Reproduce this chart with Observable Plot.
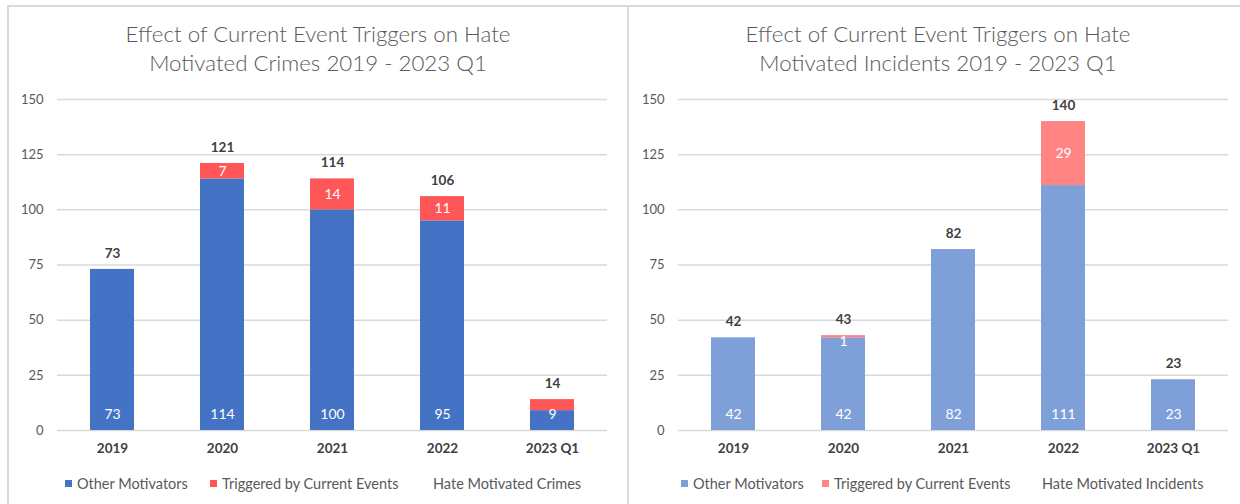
<!DOCTYPE html>
<html>
<head>
<meta charset="utf-8">
<script src="https://cdn.jsdelivr.net/npm/d3@7"></script>
<script src="https://cdn.jsdelivr.net/npm/@observablehq/plot@0.6"></script>
<style>
  html, body { margin: 0; padding: 0; background: #fff; }
  #root { position: relative; width: 1240px; height: 504px; overflow: hidden; background: #fff; font-family: Lato, "Open Sans", sans-serif; }
  .panel { position: absolute; top: 5px; height: 560px; border: 2px solid #d9d9d9; box-sizing: border-box; }
  .title { position: absolute; text-align: center; color: #595959; font-size: 22.3px; font-weight: 300; line-height: 29px; white-space: nowrap; transform: translateX(-50%); }
  .plot { position: absolute; top: 85px; }
  .leg { position: absolute; top: 475px; font-size: 14.5px; color: #595959; white-space: nowrap; line-height: 18px; }
  .sw { display: inline-block; width: 7px; height: 7px; margin-right: 5px; vertical-align: 2px; }
</style>
</head>
<body>
<div id="root">
  <div class="panel" style="left:7px;width:622px;"></div>
  <div class="panel" style="left:627px;width:700px;"></div>
  <div class="title" style="left:318px;top:19px;">Effect of Current Event Triggers on Hate<br>Motivated Crimes 2019 - 2023 Q1</div>
  <div class="title" style="left:938px;top:19px;">Effect of Current Event Triggers on Hate<br>Motivated Incidents 2019 - 2023 Q1</div>
  <div id="p1" class="plot" style="left:0px;"></div>
  <div id="p2" class="plot" style="left:620px;"></div>
  <div id="legends"></div>
</div>
<script>
// ---- data ----
const categories = ["2019", "2020", "2021", "2022", "2023 Q1"];
const crimesOther = [73, 114, 100, 95, 9];
const crimesTriggered = [0, 7, 14, 11, 5];
const crimesTriggeredShown = [false, true, true, true, false];
const crimesTotal = [73, 121, 114, 106, 14];
const incidentsOther = [42, 42, 82, 111, 23];
const incidentsTriggered = [0, 1, 0, 29, 0];
const incidentsTriggeredShown = [false, true, false, true, false];
const incidentsTotal = [42, 43, 82, 140, 23];
const yTicks = [0, 25, 50, 75, 100, 125, 150];
const seriesNames = ["Other Motivators", "Triggered by Current Events"];
const legendTotals = ["Hate Motivated Crimes", "Hate Motivated Incidents"];

function makeChart(other, trig, shown, total, colors, mLeft, mRight) {
  const rows = [];
  categories.forEach((c, i) => {
    rows.push({cat: c, series: seriesNames[0], value: other[i], base: 0, lab: other[i], show: true});
    if (trig[i] > 0) rows.push({cat: c, series: seriesNames[1], value: trig[i], base: other[i], lab: trig[i], show: shown[i]});
  });
  const totals = categories.map((c, i) => ({cat: c, total: total[i]}));
  const bases = rows.filter(r => r.series === seriesNames[0]);
  const tops = rows.filter(r => r.series === seriesNames[1] && r.show);
  const topsBig = tops.filter(r => r.value >= 3);
  const topsSmall = tops.filter(r => r.value < 3);
  return Plot.plot({
    width: 620,
    height: 380,
    marginLeft: mLeft,
    marginRight: mRight,
    marginTop: 14,
    marginBottom: 35,
    style: {fontFamily: "Lato, 'Open Sans', sans-serif", background: "transparent", overflow: "visible"},
    x: {domain: categories, paddingInner: 0.6, paddingOuter: 0.3, label: null, tickSize: 0, tickPadding: 13},
    y: {domain: [0, 150], ticks: yTicks, label: null, tickSize: 0, tickPadding: 14},
    color: {domain: seriesNames, range: colors},
    marks: [
      Plot.gridY(yTicks, {stroke: "#d9d9d9", strokeOpacity: 1, strokeWidth: 1.5}),
      Plot.axisY({ticks: yTicks, tickSize: 0, tickPadding: 14, fontSize: 13, fill: "#595959", label: null}),
      Plot.axisX({tickSize: 0, tickPadding: 13, fontSize: 13.5, fontWeight: "bold", fill: "#404040", label: null}),
      Plot.barY(rows, {x: "cat", y1: "base", y2: d => d.base + d.value, fill: "series"}),
      Plot.text(bases, {x: "cat", y: "base", text: "lab", dy: -16, fill: "white", fontSize: 14}),
      Plot.text(topsBig, {x: "cat", y: d => d.base + d.value / 2, text: "lab", fill: "white", fontSize: 14}),
      Plot.text(topsSmall, {x: "cat", y: d => d.base + d.value / 2, text: "lab", dy: 5, fill: "white", fontSize: 14}),
      Plot.text(totals, {x: "cat", y: "total", text: "total", dy: -16, fill: "#404040", fontWeight: "bold", fontSize: 13.5})
    ]
  });
}

document.getElementById("p1").appendChild(
  makeChart(crimesOther, crimesTriggered, crimesTriggeredShown, crimesTotal, ["#4472C4", "#FF5757"], 57, 13));
document.getElementById("p2").appendChild(
  makeChart(incidentsOther, incidentsTriggered, incidentsTriggeredShown, incidentsTotal, ["#7F9FD8", "#FF8585"], 58, 12));

// legends
const legSpecs = [
  {colors: ["#4472C4", "#FF5757"], xs: [65, 210, 433], total: legendTotals[0]},
  {colors: ["#7F9FD8", "#FF8585"], xs: [681, 822, 1042], total: legendTotals[1]}
];
const legRoot = document.getElementById("legends");
legSpecs.forEach(s => {
  seriesNames.forEach((n, i) => {
    const d = document.createElement("div");
    d.className = "leg";
    d.style.left = s.xs[i] + "px";
    d.innerHTML = `<span class="sw" style="background:${s.colors[i]}"></span>${n}`;
    legRoot.appendChild(d);
  });
  const d = document.createElement("div");
  d.className = "leg";
  d.style.left = s.xs[2] + "px";
  d.textContent = s.total;
  legRoot.appendChild(d);
});
</script>
</body>
</html>
